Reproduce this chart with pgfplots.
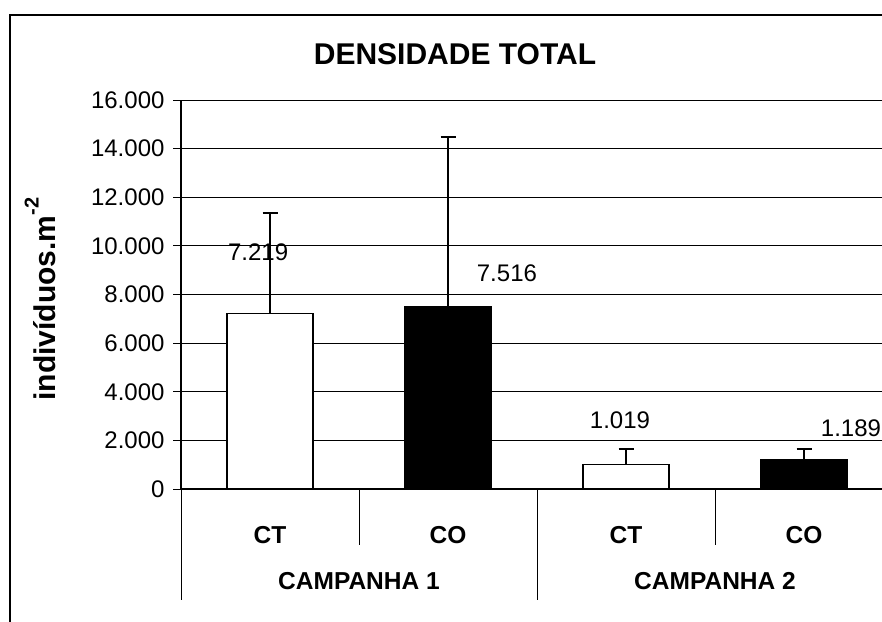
\documentclass[border=0pt]{standalone}
\usepackage{pgfplots}
\pgfplotsset{compat=1.18}
\usepackage{fontspec}
\setmainfont{Liberation Sans}
\newcommand{\fs}{\fontsize{24}{28}\selectfont}
\newcommand{\fb}{\fontsize{24.5}{28}\selectfont\bfseries}
\newcommand{\fl}{\fontsize{30}{35}\selectfont}
\begin{document}
\begin{tikzpicture}[x=1pt,y=1pt]
\useasboundingbox (0,0) rectangle (882,621);
\draw[line width=1.3pt] (10,-20) -- (10,606) -- (900,606);
\node[font=\fl\bfseries] at (455,567) {DENSIDADE TOTAL};
\node[rotate=90, font=\fl\bfseries] at (40,322) {indivíduos.m\raisebox{0.55em}{\fontsize{20}{22}\selectfont -2}};
\begin{axis}[
  at={(181pt,132pt)}, anchor=south west,
  scale only axis, width=712pt, height=389pt,
  xmin=-0.5, xmax=3.5, ymin=0, ymax=16000,
  clip=false,
  axis x line*=bottom, axis y line*=left,
  axis line style={black, line width=1.2pt},
  ytick={0,2000,...,16000},
  ymajorgrids, grid style={black, line width=0.8pt},
  tick align=outside, major tick length=8pt,
  y tick style={black, line width=0.8pt},
  scaled y ticks=false,
  yticklabel style={font=\fs, xshift=-5pt},
  /pgf/number format/.cd, 1000 sep={.}, assume math mode=true,
  /pgfplots/.cd,
  xtick={0,1,2,3}, xticklabels={CT,CO,CT,CO},
  x tick style={draw=none},
  xticklabel style={font=\fb, anchor=center, yshift=-38pt},
]
\addplot[ybar, bar shift=0pt, bar width=86pt, fill=white, draw=black, line width=1.2pt,
  error bars/.cd, y dir=plus, y explicit,
  error bar style={black, line width=1.1pt},
  error mark options={rotate=90, mark size=7.5pt, black, line width=1.1pt}]
  coordinates {(0,7219) +- (0,4133) (2,1019) +- (0,626)};
\addplot[ybar, bar shift=0pt, bar width=86pt, fill=black, draw=black, line width=1.2pt,
  error bars/.cd, y dir=plus, y explicit,
  error bar style={black, line width=1.1pt},
  error mark options={rotate=90, mark size=7.5pt, black, line width=1.1pt}]
  coordinates {(1,7516) +- (0,6962) (3,1189) +- (0,456)};
\draw[black, line width=0.8pt] (axis cs:-0.5,0) -- ([yshift=-111pt]axis cs:-0.5,0);
\draw[black, line width=0.8pt] (axis cs:0.5,0) -- ([yshift=-56pt]axis cs:0.5,0);
\draw[black, line width=0.8pt] (axis cs:1.5,0) -- ([yshift=-111pt]axis cs:1.5,0);
\draw[black, line width=0.8pt] (axis cs:2.5,0) -- ([yshift=-56pt]axis cs:2.5,0);
\draw[black, line width=0.8pt] (axis cs:3.5,0) -- ([yshift=-111pt]axis cs:3.5,0);
\node[font=\fb] at ([yshift=-92pt]axis cs:0.5,0) {CAMPANHA 1};
\node[font=\fb] at ([yshift=-92pt]axis cs:2.5,0) {CAMPANHA 2};
\node[font=\fs] at (axis cs:-0.067,9748) {7.219};
\node[font=\fs] at (axis cs:1.331,8884) {7.516};
\node[font=\fs] at (axis cs:1.966,2838) {1.019};
\node[font=\fs] at (axis cs:3.264,2509) {1.189};
\end{axis}
\end{tikzpicture}
\end{document}
